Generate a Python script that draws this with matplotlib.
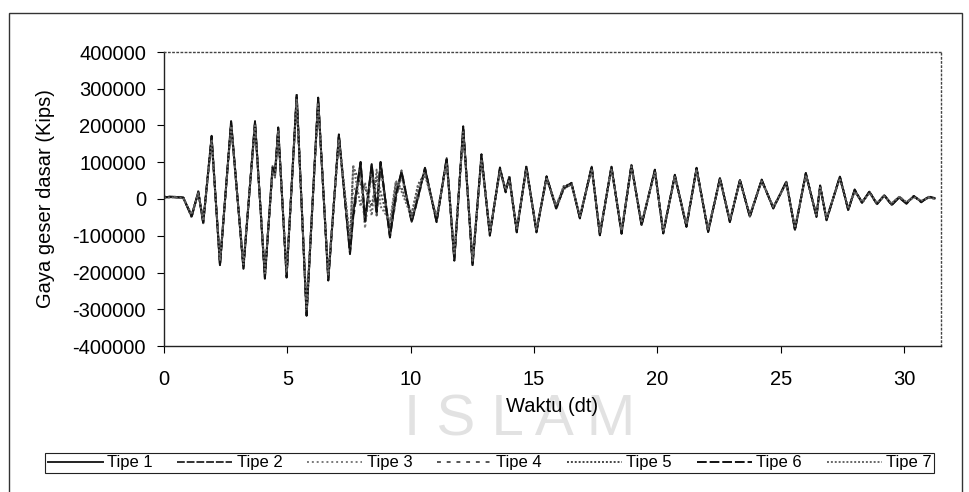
import matplotlib
matplotlib.use("Agg")
import matplotlib.pyplot as plt
from matplotlib.patches import Rectangle
import numpy as np

plt.rcParams['font.family'] = ['Liberation Sans', 'DejaVu Sans']

# time of each read-off extremum (dt)
waktu = [0.0, 0.3, 0.78, 1.12, 1.39, 1.59, 1.93, 2.27, 2.72, 3.22,
         3.69, 4.09, 4.40, 4.50, 4.63, 4.97, 5.38, 5.78, 6.25, 6.66,
         7.09, 7.54, 7.67, 7.97, 8.15, 8.42, 8.62, 8.78, 9.16, 9.40,
         9.63, 10.04, 10.30, 10.58, 11.05, 11.46, 11.77, 12.13, 12.51, 12.87,
         13.21, 13.62, 13.85, 14.0, 14.3, 14.69, 15.1, 15.51, 15.9, 16.2,
         16.52, 16.86, 17.34, 17.67, 18.14, 18.55, 18.95, 19.36, 19.9, 20.24,
         20.71, 21.18, 21.59, 22.06, 22.54, 22.94, 23.35, 23.75, 24.23, 24.7,
         25.23, 25.58, 26.02, 26.45, 26.6, 26.86, 27.4, 27.74, 28.0, 28.3,
         28.6, 28.9, 29.2, 29.5, 29.8, 30.1, 30.4, 30.7, 31.0, 31.25]

# base shear in thousands of kips
tipe1 = [5, 6, 4, -48, 20, -66, 170, -180, 210, -188,
         210, -215, 85, 65, 193, -212, 283, -316, 274, -220,
         174, -147, -40, 101, -62, 93, -38, 101, -103, 10,
         74, -62, 5, 84, -62, 111, -166, 196, -180, 120,
         -98, 84, 20, 60, -89, 88, -89, 61, -25, 30,
         43, -52, 88, -98, 88, -93, 93, -71, 79, -93,
         65, -75, 84, -89, 57, -62, 52, -48, 52, -25,
         47, -84, 70, -48, 36, -57, 61, -30, 25, -10,
         20, -14, 10, -16, 4, -12, 8, -8, 6, 2]
tipe2 = [4, 5, 3, -44, 17, -60, 162, -172, 202, -180,
         204, -206, 80, 70, 188, -205, 276, -305, 268, -212,
         168, -140, -30, 95, -55, 88, -30, 96, -96, 5,
         70, -58, 10, 80, -58, 106, -160, 190, -174, 114,
         -92, 80, 25, 55, -84, 84, -85, 58, -20, 28,
         40, -48, 84, -94, 85, -88, 90, -68, 75, -90,
         62, -72, 80, -85, 54, -58, 50, -45, 50, -22,
         44, -80, 67, -45, 33, -54, 58, -28, 22, -8,
         18, -12, 8, -14, 6, -10, 6, -6, 4, 1]
tipe3 = [6, 7, 5, -50, 22, -68, 165, -176, 206, -185,
         207, -210, 90, 72, 190, -208, 280, -312, 270, -216,
         170, -142, 20, 60, -80, 70, 10, 80, -95, 30,
         60, -55, 20, 78, -55, 108, -162, 192, -176, 116,
         -95, 82, 15, 65, -86, 86, -86, 59, -28, 25,
         45, -50, 86, -96, 86, -90, 91, -70, 77, -91,
         64, -74, 82, -87, 55, -60, 50, -46, 51, -24,
         45, -82, 68, -46, 35, -55, 60, -29, 23, -12,
         19, -13, 11, -15, 5, -11, 9, -7, 5, 3]
tipe4 = [5, 5, 3, -46, 18, -63, 160, -170, 200, -182,
         202, -204, 78, 62, 186, -202, 272, -300, 265, -210,
         165, -135, -55, 85, -70, 80, -45, 90, -100, -5,
         78, -60, 0, 82, -60, 104, -158, 188, -172, 112,
         -90, 78, 22, 58, -82, 82, -84, 56, -22, 32,
         41, -49, 83, -92, 84, -87, 89, -66, 74, -88,
         61, -70, 79, -84, 53, -57, 49, -44, 49, -23,
         43, -79, 66, -44, 32, -52, 57, -27, 21, -9,
         17, -11, 9, -13, 7, -9, 7, -5, 3, 2]
tipe5 = [6, 6, 5, -50, 21, -65, 168, -178, 208, -186,
         208, -213, 82, 60, 191, -210, 281, -314, 272, -218,
         172, -120, 88, 40, 30, -20, 60, 20, -80, 45,
         30, -40, 40, 70, -50, 100, -155, 185, -170, 110,
         -94, 80, 28, 50, -85, 85, -87, 60, -24, 35,
         42, -51, 87, -97, 87, -92, 92, -70, 78, -92,
         64, -74, 83, -88, 56, -61, 51, -47, 51, -24,
         46, -83, 69, -47, 35, -56, 60, -29, 24, -11,
         19, -13, 10, -15, 5, -11, 8, -7, 5, 2]
tipe6 = [5, 6, 4, -47, 19, -64, 172, -182, 212, -190,
         212, -217, 86, 68, 195, -214, 285, -318, 276, -222,
         176, -150, -50, 100, -60, 95, -35, 100, -105, 12,
         75, -63, 6, 85, -63, 112, -168, 198, -182, 122,
         -100, 86, 18, 62, -91, 90, -91, 62, -26, 29,
         44, -53, 90, -99, 89, -95, 94, -72, 80, -94,
         66, -76, 85, -90, 58, -63, 53, -49, 53, -26,
         48, -85, 71, -49, 37, -58, 62, -31, 26, -10,
         21, -15, 11, -17, 4, -13, 8, -9, 7, 2]
tipe7 = [4, 4, 3, -42, 16, -58, 158, -168, 198, -178,
         200, -202, 75, 58, 184, -200, 270, -298, 262, -206,
         162, -110, 92, -20, 45, -45, 80, -20, -60, 50,
         20, -50, 35, 65, -48, 98, -152, 182, -168, 108,
         -88, 76, 26, 52, -80, 80, -82, 55, -18, 34,
         38, -46, 82, -90, 82, -86, 88, -64, 72, -86,
         60, -69, 78, -82, 52, -56, 48, -43, 48, -21,
         42, -78, 65, -43, 31, -51, 56, -26, 20, -7,
         16, -10, 7, -12, 6, -8, 5, -4, 3, 1]

labels = ['Tipe 1', 'Tipe 2', 'Tipe 3', 'Tipe 4', 'Tipe 5', 'Tipe 6', 'Tipe 7']
series = [tipe1, tipe2, tipe3, tipe4, tipe5, tipe6, tipe7]
colors = ['#222222', '#333333', '#7a7a7a', '#555555', '#444444', '#111111', '#666666']
dashes = [(None, None), (4, 1), (1, 1.5), (2, 3), (1, 1), (5, 1.5), (1, 1)]

yticks = [-400000, -300000, -200000, -100000, 0, 100000, 200000, 300000, 400000]
xticks = [0, 5, 10, 15, 20, 25, 30]

fig = plt.figure(figsize=(9.7, 4.92), dpi=100)
ax = fig.add_axes([164 / 970, 1 - 346 / 492, 777 / 970, 294 / 492])
ax.patch.set_alpha(0)
ax.set_zorder(2)

# watermark of the scanned page, kept behind the chart
fig.text(520 / 970, 1 - 420 / 492, 'I S L A M', fontsize=42,
         color='#e2e2e2', ha='center', va='center', zorder=-5)

t = np.array(waktu)
for vals, lab, c, d in zip(series, labels, colors, dashes):
    line, = ax.plot(t, np.array(vals) * 1000, color=c, lw=1.4, label=lab)
    if d[0] is not None:
        line.set_dashes(d)

ax.set_xlim(0, 31.5)
ax.set_ylim(-400000, 400000)
ax.set_xticks(xticks)
ax.set_yticks(yticks)
ax.set_yticklabels([str(v) for v in yticks])
ax.tick_params(axis='both', labelsize=14.5, direction='out', length=5, width=0.8)
ax.tick_params(axis='y', pad=8)
ax.tick_params(axis='x', pad=12)

for s in ['left', 'bottom']:
    ax.spines[s].set_color('#222222')
    ax.spines[s].set_linewidth(1.0)
for s in ['top', 'right']:
    ax.spines[s].set_color('#444444')
    ax.spines[s].set_linewidth(1.0)
    ax.spines[s].set_linestyle((0, (1, 2)))

ax.set_xlabel('Waktu (dt)', fontsize=14.5)
ax.xaxis.set_label_coords(0.5, (346 - 406) / 294)
ax.xaxis.label.set_va('center')
ax.set_ylabel('Gaya geser dasar (Kips)', fontsize=14.5)
ax.yaxis.set_label_coords((45 - 164) / 777, 0.5)
ax.yaxis.label.set_va('center')

leg = fig.legend(loc='center', bbox_to_anchor=((43 + 936) / 2 / 970, 1 - 463 / 492),
                 ncol=7, fontsize=12, frameon=True, fancybox=False,
                 handlelength=3.3, handletextpad=0.25, columnspacing=1.5,
                 borderpad=0.15, edgecolor='#222222', framealpha=1)
leg.get_frame().set_linewidth(0.8)

# outer frame of the chart
fig.patches.append(Rectangle((9 / 970, -0.05), 953 / 970, 1.05 - 13 / 492,
                             transform=fig.transFigure, fill=False,
                             edgecolor='#333333', lw=1.0))

fig.savefig('out.png', dpi=100)
